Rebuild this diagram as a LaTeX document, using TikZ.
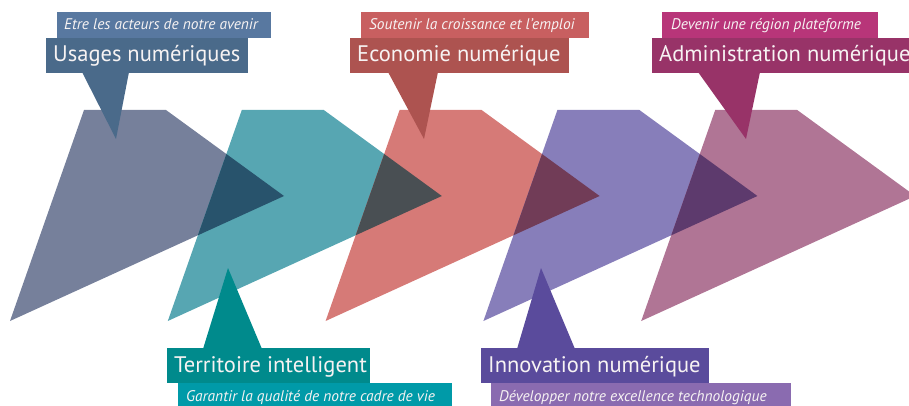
\documentclass[tikz,border=0pt]{standalone}
\usepackage{fontspec}
\setmainfont{PT Sans}
\definecolor{slate}{HTML}{76809B}
\definecolor{teal}{HTML}{57A6B2}
\definecolor{coral}{HTML}{D67A77}
\definecolor{lavender}{HTML}{877EBA}
\definecolor{mauve}{HTML}{B07595}
% overlaps (multiplied colours)
\definecolor{ovA}{HTML}{28536C}
\definecolor{ovB}{HTML}{494F53}
\definecolor{ovC}{HTML}{713C57}
\definecolor{ovD}{HTML}{5D3A6D}
% callout colours
\definecolor{usMain}{HTML}{4A6A8A}\definecolor{usSub}{HTML}{5878A0}
\definecolor{ecMain}{HTML}{AD5350}\definecolor{ecSub}{HTML}{C85F60}
\definecolor{adMain}{HTML}{983368}\definecolor{adSub}{HTML}{B83579}
\definecolor{teMain}{HTML}{008A8C}\definecolor{teSub}{HTML}{009AA8}
\definecolor{inMain}{HTML}{5A4B9C}\definecolor{inSub}{HTML}{8A6BB0}
\definecolor{txt}{HTML}{F7F3F3}
\begin{document}
\begin{tikzpicture}[x=1pt,y=-1pt,
  title/.style={anchor=base west,inner sep=0pt,text=txt,font=\fontsize{22.5}{24}\selectfont},
  motto/.style={anchor=base west,inner sep=0pt,text=txt,font=\fontsize{15.4}{17}\selectfont\itshape}]
\useasboundingbox (0,0) rectangle (909,406);
% arrow-like quadrilateral number #1 shifted by #1 steps
\def\quad#1{++(0,0) (84+157.8*#1,110) -- (166+157.8*#1,110) -- (284+157.8*#1,196) -- (10+157.8*#1,321) -- cycle}
\fill[slate] \quad{0};
\fill[teal] \quad{1};
\fill[coral] \quad{2};
\fill[lavender] \quad{3};
\fill[mauve] \quad{4};
\begin{scope}\clip \quad{0}; \fill[ovA] \quad{1};\end{scope}
\begin{scope}\clip \quad{1}; \fill[ovB] \quad{2};\end{scope}
\begin{scope}\clip \quad{2}; \fill[ovC] \quad{3};\end{scope}
\begin{scope}\clip \quad{3}; \fill[ovD] \quad{4};\end{scope}

% Usages numeriques
\fill[usSub] (57,12) rectangle (271,38);
\fill[usMain] (46,38) rectangle (248,73);
\fill[usMain] (82,72) -- (129,72) -- (116,139) -- cycle;
\node[motto] (usS) at (64,30) {Etre les acteurs de notre avenir};
\node[title] (usT) at (53,62) {Usages numériques};

% Economie numerique
\fill[ecSub] (361,12) rectangle (589,38);
\fill[ecMain] (350,38) rectangle (569,73);
\fill[ecMain] (388,72) -- (438,72) -- (424,139) -- cycle;
\node[motto] (ecS) at (369,30) {Soutenir la croissance et l’emploi};
\node[title] (ecT) at (357,62) {Economie numérique};

% Administration numerique
\fill[adSub] (662,12) rectangle (878,38);
\fill[adMain] (652,38) rectangle (909,73);
\fill[adMain] (698,72) -- (760,72) -- (746,139) -- cycle;
\node[motto] (adS) at (671,30) {Devenir une région plateforme};
\node[title] (adT) at (659,62) {Administration numérique};

% Territoire intelligent
\fill[teMain] (228,268) -- (262,349) -- (203,349) -- cycle;
\fill[teMain] (167,348) rectangle (370,383);
\fill[teSub] (178,383) rectangle (452,406);
\node[title] (teT) at (174,372) {Territoire intelligent};
\node[motto] (teS) at (186,401) {Garantir la qualité de notre cadre de vie};

% Innovation numerique
\fill[inMain] (541,268) -- (575,349) -- (517,349) -- cycle;
\fill[inMain] (481,348) rectangle (709,383);
\fill[inSub] (491,383) rectangle (791,406);
\node[title] (inT) at (488,372) {Innovation numérique};
\node[motto] (inS) at (499,401) {Développer notre excellence technologique};
\end{tikzpicture}
\end{document}
